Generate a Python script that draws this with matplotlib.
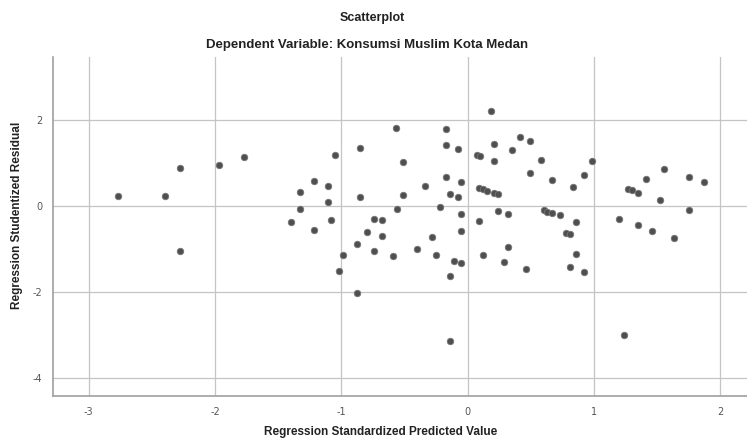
import numpy as np
import matplotlib
matplotlib.use("Agg")
import matplotlib.pyplot as plt

plt.rcParams['axes.unicode_minus'] = False

# predicted (standardized) vs studentized residual
pred = [-2.77, -2.40, -2.28, -1.97, -1.77, -2.28, -1.40, -0.57, -0.17, -0.17,
        -0.08, 0.07, 0.10, -0.85, -1.05, -0.51, -1.22, -1.11, -1.33, -1.11,
        -1.33, -0.85, -0.51, -0.34, -0.17, -0.05, -0.14, -0.08, -0.56, -0.22,
        -0.05, -0.05, -1.08, -1.22, -0.74, -0.68, -0.80, -0.68, -0.88, -0.74,
        -0.28, -0.40, -0.25, -0.59, -0.99, -0.11, -0.05, 0.18, 0.21, 0.21,
        0.41, 0.49, 0.35, 0.58, 0.49, 0.67, 0.83, 0.92, 0.98, 0.09,
        0.12, 0.15, 0.21, 0.24, 0.09, 0.24, 0.32, 0.60, 0.63, 0.67,
        0.73, 0.86, 0.78, 0.81, 0.12, 0.32, 0.86, 1.20, 1.55, 1.41,
        1.75, 1.87, 1.27, 1.30, 1.35, 1.52, 1.75, 1.35, 1.46, 1.63,
        -1.02, -0.88, -0.14, 0.29, 0.46, 0.81, 0.92, -0.14, 1.24]
resid = [0.23, 0.23, 0.89, 0.95, 1.14, -1.05, -0.38, 1.81, 1.80, 1.42,
         1.34, 1.20, 1.17, 1.35, 1.18, 1.02, 0.59, 0.47, 0.32, 0.09,
         -0.07, 0.22, 0.26, 0.47, 0.68, 0.56, 0.27, 0.22, -0.06, -0.02,
         -0.19, -0.57, -0.32, -0.56, -0.29, -0.33, -0.60, -0.70, -0.89, -1.05,
         -0.73, -1.00, -1.13, -1.17, -1.15, -1.29, -1.33, 2.22, 1.44, 1.06,
         1.61, 1.52, 1.30, 1.07, 0.78, 0.61, 0.44, 0.73, 1.06, 0.43,
         0.39, 0.36, 0.30, 0.27, -0.34, -0.11, -0.19, -0.09, -0.13, -0.16,
         -0.21, -0.37, -0.63, -0.66, -1.14, -0.95, -1.11, -0.31, 0.87, 0.64,
         0.68, 0.56, 0.40, 0.37, 0.30, 0.14, -0.09, -0.45, -0.57, -0.74,
         -1.52, -2.03, -1.62, -1.30, -1.47, -1.42, -1.54, -3.14, -3.00]

xticks = [-3, -2, -1, 0, 1, 2]
yticks = [-4, -2, 0, 2]

fig = plt.figure(figsize=(7.47, 4.40), dpi=100)
ax = fig.add_axes([0.0714, 0.1007, 0.9286, 0.7693])

ax.scatter(pred, resid, s=22, c='#4f4f4f', edgecolors='#777777',
           linewidths=0.6, zorder=3)

ax.set_xlim(-3.28, 2.21)
ax.set_ylim(-4.42, 3.47)
ax.set_xticks(xticks)
ax.set_yticks(yticks)
ax.grid(True, color='#c4c4c4', linewidth=0.9, zorder=0)
ax.set_axisbelow(True)

for s in ['top', 'right']:
    ax.spines[s].set_visible(False)
for s in ['left', 'bottom']:
    ax.spines[s].set_color('#a0a0a0')
    ax.spines[s].set_linewidth(1.2)

ax.tick_params(length=0, labelsize=7, labelcolor='#555555')
ax.tick_params(axis='x', pad=8)
ax.tick_params(axis='y', pad=8)

lab = dict(fontweight='bold', family='Liberation Sans', color='#222222')
fig.text(0.509, 0.018, 'Regression Standardized Predicted Value',
         ha='center', va='center', fontsize=8.5, **lab)
fig.text(0.023, 0.51, 'Regression Studentized Residual', rotation=90,
         ha='center', va='center', fontsize=8.5, **lab)

fig.text(0.498, 0.958, 'Scatterplot', ha='center', va='center', fontsize=9,
         **lab)
fig.text(0.492, 0.897, 'Dependent Variable: Konsumsi Muslim Kota Medan',
         ha='center', va='center', fontsize=9.5, **lab)

fig.savefig('out.png', dpi=100)
